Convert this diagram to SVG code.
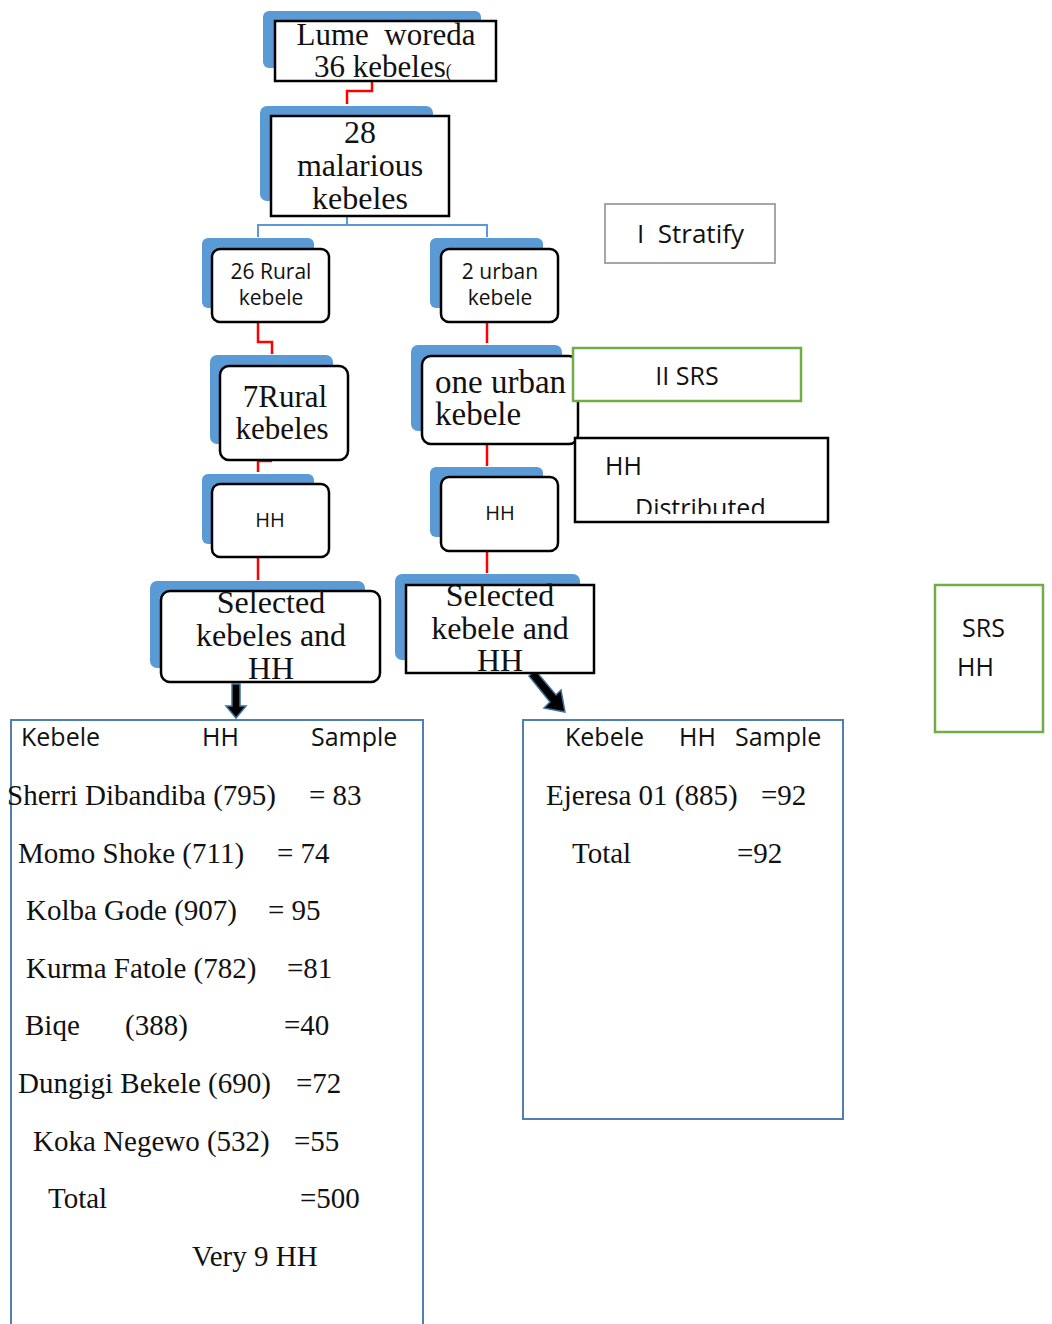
<svg xmlns="http://www.w3.org/2000/svg" width="1052" height="1324" viewBox="0 0 1052 1324">
<style>
.sh{fill:#5b9bd5}
.bx{fill:#fff;stroke:#000;stroke-width:2.5}
.serif{font-family:"Liberation Serif","Times New Roman",serif;fill:#111}
.sans{font-family:"Open Sans","Liberation Sans",sans-serif;fill:#111}
.red{fill:none;stroke:#ff0000;stroke-width:2.5}
.blue{fill:none;stroke:#5b9bd5;stroke-width:2}
.tbl{fill:#fff;stroke:#4f7fae;stroke-width:2}
</style>
<defs>
<clipPath id="clipHH"><rect x="576" y="438" width="251" height="76"/></clipPath>
</defs>
<rect width="1052" height="1324" fill="#fff"/>

<g id="connectors">
<path class="red" d="M372,81 V91 H347 V104"/>
<path class="blue" d="M347,216 V225 M258,237 V225 H487 V237"/>
<path class="red" d="M258,322 V342 H272 V354"/>
<path class="red" d="M487,322 V343"/>
<path class="red" d="M272,461 H258 V472"/>
<path class="red" d="M487,444 V466"/>
<path class="red" d="M258,557 V580"/>
<path class="red" d="M487,551 V573"/>
<path d="M232,684 H240 V706 H246 L236,718 L226,706 H232 Z" fill="#000" stroke="#41719c" stroke-width="1.5"/>
<path d="M529,676 L535,670 L556,695 L561,690 L565,712 L544,708 L550,702 Z" fill="#000" stroke="#41719c" stroke-width="1.5"/>
</g>

<g id="n-lume">
<rect class="sh" x="263" y="11" width="218" height="57" rx="6"/>
<rect class="bx" x="275" y="21" width="221" height="60"/>
<text class="serif" font-size="31" x="386" y="45" text-anchor="middle" xml:space="preserve">Lume  woreda</text>
<text class="serif" font-size="31" x="314" y="77">36 kebeles<tspan font-size="18">(</tspan></text>
</g>

<g id="n-28">
<rect class="sh" x="260" y="106" width="173" height="95" rx="7"/>
<rect class="bx" x="271" y="116" width="178" height="100"/>
<text class="serif" font-size="32" x="360" y="143" text-anchor="middle">28</text>
<text class="serif" font-size="32" x="360" y="176" text-anchor="middle">malarious</text>
<text class="serif" font-size="32" x="360" y="209" text-anchor="middle">kebeles</text>
</g>

<g id="n-26rural">
<rect class="sh" x="202" y="238" width="112" height="70" rx="6"/>
<rect class="bx" x="212" y="249" width="117" height="73" rx="8"/>
<text class="sans" font-size="21" x="271" y="279" text-anchor="middle">26 Rural</text>
<text class="sans" font-size="21" x="271" y="305" text-anchor="middle">kebele</text>
</g>

<g id="n-2urban">
<rect class="sh" x="430" y="238" width="113" height="70" rx="6"/>
<rect class="bx" x="441" y="249" width="117" height="73" rx="8"/>
<text class="sans" font-size="21" x="500" y="279" text-anchor="middle">2 urban</text>
<text class="sans" font-size="21" x="500" y="305" text-anchor="middle">kebele</text>
</g>

<g id="n-stratify">
<rect x="605" y="204" width="170" height="59" fill="#fff" stroke="#a6a6a6" stroke-width="2"/>
<text class="sans" font-size="26" x="637" y="243" xml:space="preserve">I  Stratify</text>
</g>

<g id="n-7rural">
<rect class="sh" x="210" y="355" width="123" height="89" rx="7"/>
<rect class="bx" x="220" y="366" width="128" height="94" rx="9"/>
<text class="serif" font-size="31" x="285" y="407" text-anchor="middle">7Rural</text>
<text class="serif" font-size="31" x="282" y="439" text-anchor="middle">kebeles</text>
</g>

<g id="n-oneurban">
<rect class="sh" x="411" y="345" width="151" height="86" rx="7"/>
<rect class="bx" x="422" y="356" width="156" height="88" rx="9"/>
<text class="serif" font-size="33" x="435" y="393">one urban</text>
<text class="serif" font-size="33" x="435" y="425">kebele</text>
</g>

<g id="n-iisrs">
<rect x="573" y="348" width="228" height="53" fill="#fff" stroke="#70ad47" stroke-width="2.5"/>
<text class="sans" font-size="25" x="687" y="385" text-anchor="middle">II SRS</text>
</g>

<g id="n-hhdist">
<rect x="575" y="438" width="253" height="84" fill="#fff" stroke="#000" stroke-width="2.5"/>
<g clip-path="url(#clipHH)">
<text class="sans" font-size="25" x="605" y="475">HH</text>
<text class="sans" font-size="25" x="635" y="517">Distributed</text>
</g>
</g>

<g id="n-hh-left">
<rect class="sh" x="202" y="474" width="112" height="70" rx="6"/>
<rect class="bx" x="212" y="484" width="117" height="73" rx="8"/>
<text class="sans" font-size="20" x="270" y="527" text-anchor="middle">HH</text>
</g>

<g id="n-hh-right">
<rect class="sh" x="430" y="467" width="113" height="70" rx="6"/>
<rect class="bx" x="441" y="477" width="117" height="74" rx="8"/>
<text class="sans" font-size="20" x="500" y="520" text-anchor="middle">HH</text>
</g>

<g id="n-sel-left">
<rect class="sh" x="150" y="581" width="215" height="87" rx="7"/>
<rect class="bx" x="161" y="591" width="219" height="91" rx="9"/>
<text class="serif" font-size="32" x="271" y="613" text-anchor="middle">Selected</text>
<text class="serif" font-size="32" x="271" y="646" text-anchor="middle">kebeles and</text>
<text class="serif" font-size="32" x="271" y="679" text-anchor="middle">HH</text>
</g>

<g id="n-sel-right">
<rect class="sh" x="395" y="574" width="185" height="86" rx="7"/>
<rect class="bx" x="406" y="585" width="188" height="88"/>
<text class="serif" font-size="32" x="500" y="606" text-anchor="middle">Selected</text>
<text class="serif" font-size="32" x="500" y="639" text-anchor="middle">kebele and</text>
<text class="serif" font-size="32" x="500" y="671" text-anchor="middle">HH</text>
</g>

<g id="n-srshh">
<rect x="935" y="585" width="108" height="147" fill="#fff" stroke="#70ad47" stroke-width="2.5"/>
<text class="sans" font-size="25" x="962" y="637">SRS</text>
<text class="sans" font-size="25" x="957" y="676">HH</text>
</g>

<g id="n-table-left">
<rect class="tbl" x="11" y="720" width="412" height="620"/>
<text class="sans" font-size="25" x="21" y="746">Kebele</text>
<text class="sans" font-size="25" x="202" y="746">HH</text>
<text class="sans" font-size="25" x="311" y="746">Sample</text>
<g class="serif" font-size="29">
<text x="7" y="805">Sherri Dibandiba (795)</text><text x="309" y="805">= 83</text>
<text x="18" y="863">Momo Shoke (711)</text><text x="277" y="863">= 74</text>
<text x="26" y="920">Kolba Gode (907)</text><text x="268" y="920">= 95</text>
<text x="26" y="978">Kurma Fatole (782)</text><text x="287" y="978">=81</text>
<text x="25" y="1035">Biqe</text><text x="125" y="1035">(388)</text><text x="284" y="1035">=40</text>
<text x="18" y="1093">Dungigi Bekele (690)</text><text x="296" y="1093">=72</text>
<text x="33" y="1151">Koka Negewo (532)</text><text x="294" y="1151">=55</text>
<text x="48" y="1208">Total</text><text x="300" y="1208">=500</text>
<text x="192" y="1266">Very 9 HH</text>
</g>
</g>

<g id="n-table-right">
<rect class="tbl" x="523" y="720" width="320" height="399"/>
<text class="sans" font-size="25" x="565" y="746">Kebele</text>
<text class="sans" font-size="25" x="679" y="746">HH</text>
<text class="sans" font-size="25" x="735" y="746">Sample</text>
<g class="serif" font-size="29">
<text x="546" y="805">Ejeresa 01 (885)</text><text x="761" y="805">=92</text>
<text x="572" y="863">Total</text><text x="737" y="863">=92</text>
</g>
</g>
</svg>
